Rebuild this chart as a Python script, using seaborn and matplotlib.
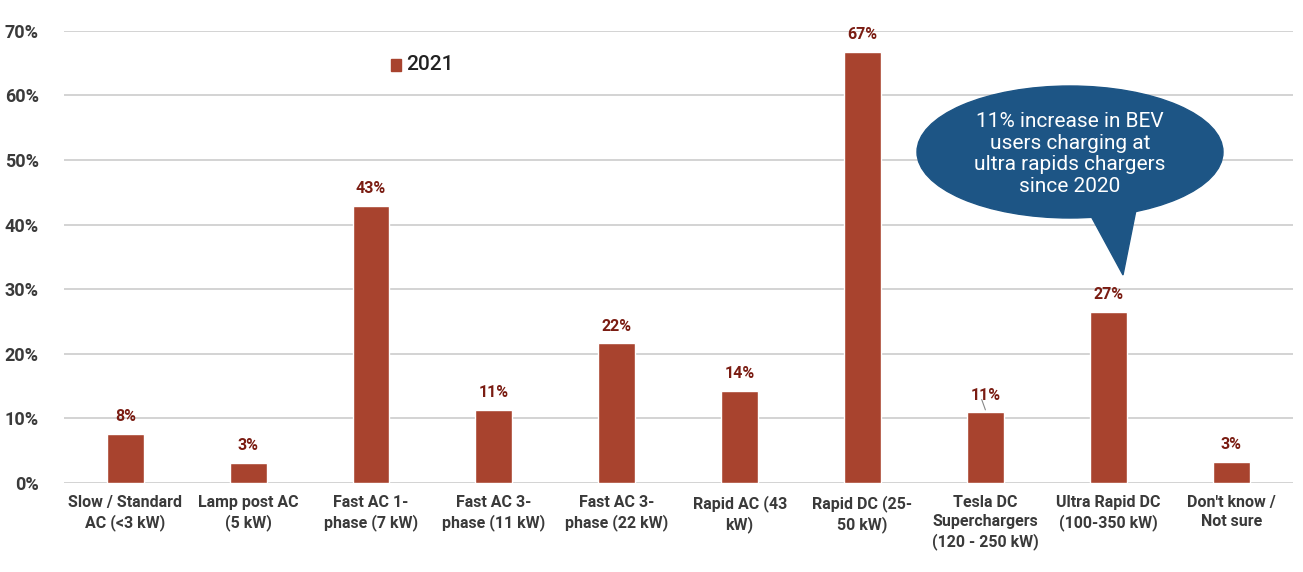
import matplotlib
matplotlib.use("Agg")
import matplotlib.pyplot as plt
import seaborn as sns
import pandas as pd
from matplotlib.patches import Ellipse, Polygon, Rectangle
from matplotlib.ticker import FuncFormatter

categories = [
    "Slow / Standard\nAC (<3 kW)",
    "Lamp post AC\n(5 kW)",
    "Fast AC 1-\nphase (7 kW)",
    "Fast AC 3-\nphase (11 kW)",
    "Fast AC 3-\nphase (22 kW)",
    "Rapid AC (43\nkW)",
    "Rapid DC (25-\n50 kW)",
    "Tesla DC\nSuperchargers\n(120 - 250 kW)",
    "Ultra Rapid DC\n(100-350 kW)",
    "Don't know /\nNot sure",
]
values_2021 = [7.6, 3.1, 42.9, 11.3, 21.6, 14.2, 66.7, 10.9, 26.5, 3.2]
value_labels = ["8%", "3%", "43%", "11%", "22%", "14%", "67%", "11%", "27%", "3%"]
callout_text = "11% increase in BEV\nusers charging at\nultra rapids chargers\nsince 2020"

df = pd.DataFrame({"category": categories, "share": values_2021, "year": "2021"})

bar_color = "#A8432E"
label_color = "#7A1C12"
tick_color = "#3A3A3A"
callout_color = "#1D5585"

sns.set_style("white")
plt.rcParams["font.family"] = ["Roboto", "DejaVu Sans"]

fig = plt.figure(figsize=(13.03, 5.72), dpi=100)
ax = fig.add_axes([0.049, 0.156, 0.943, 0.790])

sns.barplot(data=df, x="category", y="share", hue="year", palette=[bar_color],
            width=0.30, saturation=1, ax=ax, legend=False)

ax.set_ylim(0, 70)
ax.set_xlim(-0.5, 9.5)
ax.set_yticks(range(0, 71, 10))
ax.yaxis.set_major_formatter(FuncFormatter(lambda v, p: f"{int(v)}%"))
ax.grid(axis="y", color="#D0D0D0", linewidth=1.3)
ax.set_axisbelow(True)
for s in ax.spines.values():
    s.set_visible(False)
ax.set_xlabel("")
ax.set_ylabel("")
ax.tick_params(axis="both", length=0)
ax.tick_params(axis="y", pad=18)
ax.tick_params(axis="x", pad=9)
for t in ax.get_yticklabels():
    t.set_fontsize(13)
    t.set_fontweight("bold")
    t.set_color(tick_color)
for t in ax.get_xticklabels():
    t.set_fontsize(11.5)
    t.set_fontweight("bold")
    t.set_color(tick_color)
    t.set_linespacing(1.3)

ax.bar_label(ax.containers[0], labels=value_labels, padding=7, fontsize=11.5,
             fontweight="bold", color=label_color)

# small leader line for the Tesla label
ax.plot([7.0, 6.97], [values_2021[7] + 0.4, values_2021[7] + 2.0], color="#888888", lw=0.8)

# legend
fig.patches.append(Rectangle((391 / 1303, 1 - 71 / 572), 10 / 1303, 12 / 572,
                             transform=fig.transFigure, color=bar_color))
fig.text(406 / 1303, 1 - 65 / 572, "2021", fontsize=15, color="#222222", va="center",
         fontweight="medium")

# speech bubble callout
tail = Polygon([(1085 / 1303, 1 - 205 / 572), (1138 / 1303, 1 - 200 / 572),
                (1123 / 1303, 1 - 275 / 572)], closed=True,
               transform=fig.transFigure, color=callout_color)
fig.patches.append(tail)
fig.patches.append(Ellipse((1070 / 1303, 1 - 152 / 572), 306 / 1303, 132 / 572,
                           transform=fig.transFigure, color=callout_color))
fig.text(1070 / 1303, 1 - 154 / 572, callout_text, ha="center", va="center",
         color="white", fontsize=15, linespacing=1.18)

fig.savefig("out.png", dpi=100)
